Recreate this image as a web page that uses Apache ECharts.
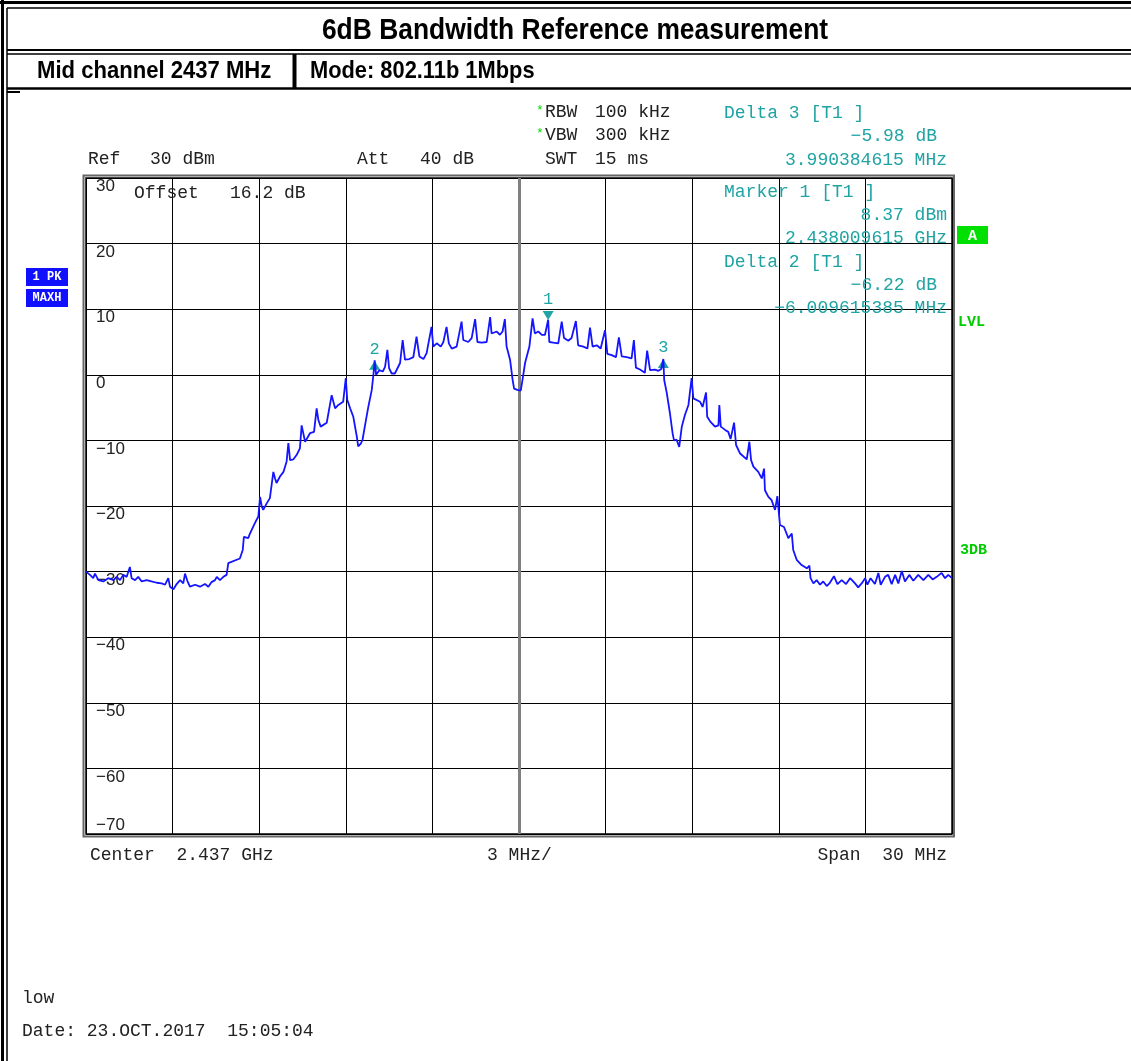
<!DOCTYPE html>
<html>
<head>
<meta charset="utf-8">
<title>6dB Bandwidth Reference measurement</title>
<script src="https://cdn.jsdelivr.net/npm/echarts@6.0.0/dist/echarts.min.js"></script>
<style>
html, body { margin: 0; padding: 0; background: #fff; }
#chart { width: 1131px; height: 1061px; }
</style>
</head>
<body>
<div id="chart"></div>
<script>
// trace: [offset from 2.437 GHz in MHz, level in dBm]
var trace = [
  [-15.00,-30.0],[-14.86,-30.5],[-14.75,-31.0],[-14.69,-30.3],[-14.57,-31.3],[-14.40,-31.5],[-14.23,-31.0],
  [-14.05,-31.3],[-13.94,-30.8],[-13.82,-31.3],[-13.71,-30.5],[-13.59,-30.8],[-13.48,-29.3],[-13.42,-31.0],
  [-13.30,-31.3],[-13.19,-30.8],[-13.07,-31.5],[-12.90,-31.3],[-12.73,-31.5],[-12.55,-31.7],[-12.38,-31.8],
  [-12.26,-32.0],[-12.15,-31.0],[-12.09,-32.3],[-11.97,-32.7],[-11.86,-31.9],[-11.74,-31.3],[-11.63,-31.8],
  [-11.57,-30.3],[-11.49,-31.4],[-11.40,-32.3],[-11.22,-32.0],[-11.05,-32.3],[-10.88,-31.9],[-10.76,-32.3],
  [-10.65,-31.6],[-10.53,-31.3],[-10.47,-30.8],[-10.36,-31.3],[-10.24,-30.8],[-10.13,-30.5],[-10.07,-28.7],
  [-10.01,-28.6],[-9.67,-28.0],[-9.57,-26.7],[-9.53,-24.7],[-9.38,-24.9],[-9.32,-24.2],[-9.15,-22.6],
  [-9.03,-21.6],[-8.97,-18.6],[-8.91,-20.1],[-8.86,-20.6],[-8.74,-19.6],[-8.63,-18.8],[-8.51,-14.8],
  [-8.45,-15.8],[-8.40,-16.5],[-8.28,-15.5],[-8.16,-14.8],[-8.05,-13.2],[-7.99,-10.4],[-7.93,-13.0],
  [-7.82,-12.9],[-7.70,-12.2],[-7.59,-11.2],[-7.53,-7.7],[-7.41,-10.2],[-7.24,-8.9],[-7.10,-8.7],
  [-7.01,-5.1],[-6.95,-6.9],[-6.87,-7.9],[-6.66,-7.3],[-6.49,-3.1],[-6.43,-4.1],[-6.37,-5.1],
  [-6.26,-4.6],[-6.09,-4.1],[-6.00,-0.5],[-5.95,-3.8],[-5.85,-5.1],[-5.74,-6.4],[-5.62,-9.4],
  [-5.57,-10.9],[-5.48,-10.5],[-5.42,-9.9],[-5.37,-10.2],[-5.31,-7.1],[-5.22,-4.9],[-5.10,-2.3],
  [-5.04,0.2],[-5.00,2.2],[-4.95,0.0],[-4.84,0.7],[-4.72,0.5],[-4.64,1.2],[-4.56,3.8],[-4.50,1.0],
  [-4.41,0.2],[-4.30,0.2],[-4.12,1.8],[-4.03,5.3],[-3.95,2.3],[-3.80,2.4],[-3.66,2.7],[-3.55,5.8],
  [-3.45,2.8],[-3.31,2.4],[-3.20,3.3],[-3.03,7.3],[-2.97,4.3],[-2.85,4.8],[-2.71,4.3],[-2.62,5.0],
  [-2.51,7.3],[-2.43,4.8],[-2.33,4.0],[-2.16,4.3],[-1.99,8.1],[-1.93,5.3],[-1.76,5.0],[-1.64,5.6],
  [-1.52,8.5],[-1.44,5.0],[-1.29,4.9],[-1.12,5.0],[-1.00,8.8],[-0.95,6.3],[-0.77,6.6],[-0.66,6.1],
  [-0.57,6.6],[-0.49,8.5],[-0.43,4.3],[-0.31,2.3],[-0.22,-0.8],[-0.17,-2.1],[-0.14,-2.1],[-0.06,-2.3],
  [0.06,-2.4],[0.12,-0.8],[0.21,1.8],[0.36,4.3],[0.47,8.6],[0.55,6.3],[0.67,6.6],[0.79,6.1],
  [0.90,6.1],[1.01,8.4],[1.05,5.0],[1.19,4.9],[1.36,4.8],[1.48,8.1],[1.56,5.6],[1.71,5.2],
  [1.82,5.6],[1.97,8.2],[2.05,4.5],[2.23,4.3],[2.37,4.0],[2.46,7.2],[2.55,4.3],[2.69,4.5],
  [2.83,4.0],[2.98,6.8],[3.06,3.2],[3.21,3.0],[3.36,2.7],[3.46,5.7],[3.56,2.8],[3.73,2.7],
  [3.90,2.5],[3.98,5.3],[4.05,1.1],[4.19,0.8],[4.36,0.3],[4.44,3.7],[4.54,0.7],[4.71,0.8],
  [4.83,0.6],[4.93,0.9],[5.00,2.4],[5.03,-0.8],[5.12,-2.8],[5.23,-5.9],[5.32,-8.9],[5.37,-10.0],
  [5.46,-9.9],[5.55,-11.0],[5.64,-7.9],[5.75,-6.1],[5.87,-4.6],[5.98,-0.5],[6.04,-3.6],[6.27,-4.1],
  [6.36,-4.9],[6.48,-2.7],[6.52,-6.4],[6.62,-7.1],[6.79,-7.9],[6.91,-7.7],[6.94,-4.6],[6.99,-7.9],
  [7.14,-8.4],[7.25,-8.7],[7.33,-9.8],[7.45,-7.3],[7.52,-10.7],[7.66,-12.0],[7.89,-12.9],[7.98,-10.2],
  [8.04,-13.0],[8.12,-14.0],[8.29,-14.8],[8.41,-15.8],[8.49,-14.3],[8.52,-17.6],[8.64,-18.6],[8.75,-19.1],
  [8.87,-20.6],[8.95,-18.5],[9.04,-22.9],[9.18,-23.2],[9.33,-24.9],[9.45,-24.2],[9.50,-26.7],[9.62,-28.2],
  [9.79,-29.0],[9.97,-29.5],[10.06,-29.1],[10.10,-31.0],[10.20,-31.8],[10.31,-31.3],[10.43,-32.0],[10.54,-31.5],
  [10.66,-32.2],[10.77,-31.7],[10.91,-30.7],[11.03,-31.9],[11.18,-31.3],[11.33,-31.9],[11.47,-31.0],[11.64,-31.8],
  [11.75,-32.4],[11.87,-31.8],[11.99,-31.0],[12.07,-32.0],[12.18,-31.0],[12.33,-31.9],[12.45,-30.2],[12.53,-32.0],
  [12.68,-30.8],[12.79,-30.5],[12.91,-31.9],[13.03,-30.5],[13.14,-31.8],[13.26,-29.9],[13.37,-31.5],[13.52,-30.5],
  [13.66,-31.4],[13.83,-30.5],[14.01,-31.3],[14.18,-30.5],[14.33,-31.2],[14.47,-30.8],[14.64,-30.2],[14.76,-31.0],
  [14.87,-30.5],[15.00,-31.0]
];

// markers (offset MHz / level dBm)
var markerNames = ['1', '2', '3'];
var markerFreq = [1.01, -5.00, 5.00];
var markerLevel = [8.37, 2.15, 2.39];

var spanMin = -15, spanMax = 15, freqDiv = 3;
var refLevel = 30, bottomLevel = -70, levelDiv = 10;
var centerOffset = 0;

var TEAL = '#1fa3a3';
var MONO = '18px "Liberation Mono", "DejaVu Sans Mono", monospace';
var SANS = '"Liberation Sans", Arial, sans-serif';

function txt(x, y, s, color, font, align, sx) {
    return {
        type: 'text', x: x, y: y, z: 100, silent: true, scaleX: sx || 1,
        style: {
            text: s, fill: color || '#222', font: font || MONO,
            align: align || 'left', textAlign: align || 'left',
            verticalAlign: 'middle', textVerticalAlign: 'middle'
        }
    };
}
function ln(x1, y1, x2, y2, w, c) {
    return { type: 'line', z: 90, silent: true, shape: {x1: x1, y1: y1, x2: x2, y2: y2},
             style: {stroke: c || '#000', lineWidth: w} };
}
function box(x, y, w, h, c) {
    return { type: 'rect', z: 95, silent: true, shape: {x: x, y: y, width: w, height: h}, style: {fill: c} };
}

function minus(v) { return String(v).replace('-', '\u2212'); }

var chart = echarts.init(document.getElementById('chart'));

var graphics = [
    // frame of the report header
    ln(0, 2.5, 1131, 2.5, 3), ln(7, 8, 1131, 8, 1.5),
    ln(2.5, 0, 2.5, 1061, 3), ln(7, 8, 7, 1061, 1.5),
    ln(7, 50, 1131, 50, 2), ln(7, 54, 1131, 54, 1.5),
    ln(7, 88.5, 1131, 88.5, 2.5), ln(7, 92, 20, 92, 2),
    ln(294.5, 54, 294.5, 88, 4),
    // narrow bold headline (Arial Narrow look, scaled Liberation Sans)
    txt(575, 31, '6dB Bandwidth Reference measurement', '#000', 'bold 30px ' + SANS, 'center', 0.88),
    txt(37, 71, 'Mid channel 2437 MHz', '#000', 'bold 24px ' + SANS, 'left', 0.92),
    txt(310, 71, 'Mode: 802.11b 1Mbps', '#000', 'bold 24px ' + SANS, 'left', 0.91),

    // outer gray line of the double plot frame
    { type: 'rect', z: 4, silent: true, shape: {x: 83.5, y: 175.5, width: 870.5, height: 661},
      style: {fill: null, stroke: '#666', lineWidth: 2} },

    // instrument settings
    txt(536, 111, '*', '#00dd00', '13px "Liberation Mono", monospace'),
    txt(536, 134, '*', '#00dd00', '13px "Liberation Mono", monospace'),
    txt(545, 112, 'RBW', '#222'), txt(595, 112, '100 kHz', '#222'),
    txt(545, 135, 'VBW', '#222'), txt(595, 135, '300 kHz', '#222'),
    txt(545, 159, 'SWT', '#222'), txt(595, 159, '15 ms', '#222'),
    txt(88, 159, 'Ref', '#222'), txt(150, 159, '30 dBm', '#222'),
    txt(357, 159, 'Att', '#222'), txt(420, 159, '40 dB', '#222'),
    txt(134, 193, 'Offset', '#222'), txt(230, 193, '16.2 dB', '#222'),

    // marker readouts
    txt(724, 113, 'Delta 3 [T1 ]', TEAL),
    txt(937, 136, '\u22125.98 dB', TEAL, MONO, 'right'),
    txt(947, 160, '3.990384615 MHz', TEAL, MONO, 'right'),
    txt(724, 192, 'Marker 1 [T1 ]', TEAL),
    txt(947, 215, '8.37 dBm', TEAL, MONO, 'right'),
    txt(947, 238, '2.438009615 GHz', TEAL, MONO, 'right'),
    txt(724, 262, 'Delta 2 [T1 ]', TEAL),
    txt(937, 285, '\u22126.22 dB', TEAL, MONO, 'right'),
    txt(947, 308, '\u22126.009615385 MHz', TEAL, MONO, 'right'),

    // side badges
    box(26, 268, 42, 18, '#1010ff'), txt(47, 277, '1 PK', '#fff', 'bold 12px "Liberation Mono", monospace', 'center'),
    box(26, 289, 42, 18, '#1010ff'), txt(47, 298, 'MAXH', '#fff', 'bold 12px "Liberation Mono", monospace', 'center'),
    box(957, 226, 31, 18, '#00e000'), txt(972.5, 236, 'A', '#fff', 'bold 15px "Liberation Mono", monospace', 'center'),
    txt(958, 322, 'LVL', '#00cc00', 'bold 15px "Liberation Mono", monospace'),
    txt(960, 550, '3DB', '#00cc00', 'bold 15px "Liberation Mono", monospace'),

    // x axis annotation
    txt(90, 855, 'Center  2.437 GHz', '#222'),
    txt(487, 855, '3 MHz/', '#222'),
    txt(947, 855, 'Span  30 MHz', '#222', MONO, 'right'),

    txt(22, 998, 'low', '#222'),
    txt(22, 1031, 'Date: 23.OCT.2017  15:05:04', '#222')
];

var option = {
    animation: false,
    backgroundColor: '#fff',
    grid: {
        left: 86, top: 178, width: 866, height: 656,
        show: true, borderColor: '#000', borderWidth: 1.5,
        outerBoundsMode: 'none'
    },
    xAxis: {
        type: 'value', min: spanMin, max: spanMax, interval: freqDiv,
        axisLine: {show: false}, axisTick: {show: false}, axisLabel: {show: false},
        splitLine: {show: true, lineStyle: {color: '#000', width: 1}}
    },
    yAxis: [
        {
            type: 'value', position: 'left', min: bottomLevel, max: refLevel, interval: levelDiv,
            axisLine: {show: false}, axisTick: {show: false},
            splitLine: {show: true, lineStyle: {color: '#000', width: 1}},
            axisLabel: {
                inside: true, margin: 10, verticalAlign: 'top', align: 'left',
                showMinLabel: true, showMaxLabel: true,
                color: '#222', fontFamily: SANS, fontSize: 17,
                formatter: function (v) { return v === bottomLevel ? '' : minus(v); }
            }
        },
        {
            // bottom label sits above its grid line
            type: 'value', position: 'left', offset: 0,
            min: bottomLevel, max: refLevel, interval: levelDiv,
            axisLine: {show: false}, axisTick: {show: false}, splitLine: {show: false},
            axisLabel: {
                inside: true, margin: 10, verticalAlign: 'bottom', align: 'left',
                showMinLabel: true, showMaxLabel: true,
                color: '#222', fontFamily: SANS, fontSize: 17,
                formatter: function (v) { return v === bottomLevel ? minus(v) : ''; }
            }
        }
    ],
    series: [
        {
            name: 'Trace 1',
            type: 'line',
            data: trace,
            showSymbol: false,
            z: 5,
            lineStyle: {color: '#1414ff', width: 1.8},
            markLine: {
                silent: true, symbol: 'none', z: 1,
                label: {show: false},
                lineStyle: {color: '#808080', width: 3, type: 'solid'},
                data: [{xAxis: centerOffset}]
            },
            markPoint: {
                symbol: 'triangle',
                symbolSize: [11, 9],
                itemStyle: {color: TEAL},
                label: {
                    show: true, position: 'top', distance: 3,
                    color: TEAL, fontFamily: '"Liberation Mono", monospace', fontSize: 17,
                    formatter: function (p) { return p.name; }
                },
                data: markerNames.map(function (n, i) {
                    var down = i === 0;
                    return {
                        name: n,
                        coord: [markerFreq[i], markerLevel[i]],
                        symbolRotate: down ? 180 : 0,
                        symbolOffset: [0, down ? '-50%' : '50%']
                    };
                })
            }
        }
    ],
    graphic: graphics
};

chart.setOption(option);
</script>
</body>
</html>
